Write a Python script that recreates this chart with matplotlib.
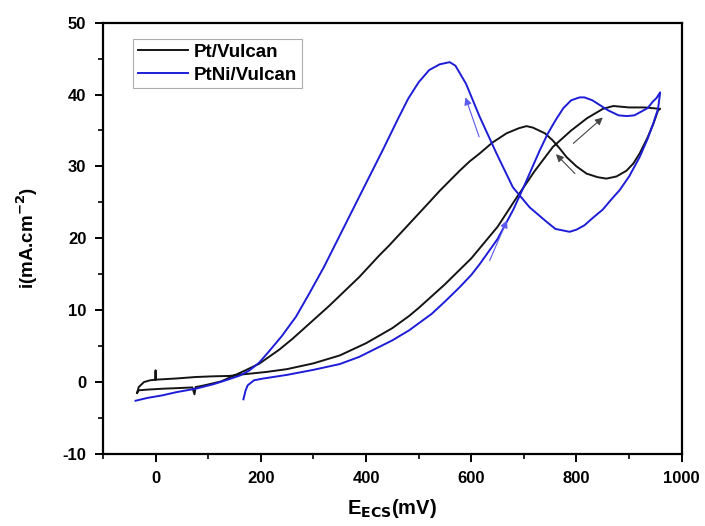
import matplotlib.pyplot as plt
import matplotlib as mpl
from matplotlib.ticker import MultipleLocator

mpl.rcParams.update(
    {
        "font.family": ["Liberation Sans", "DejaVu Sans"],
        "font.weight": "bold",
        "font.size": 12,
        "axes.labelweight": "bold",
        "axes.linewidth": 1.6,
        "axes.unicode_minus": False,
        "xtick.direction": "out",
        "ytick.direction": "out",
        "xtick.major.size": 6,
        "ytick.major.size": 6,
        "xtick.minor.size": 3.5,
        "ytick.minor.size": 3.5,
        "xtick.major.width": 1.4,
        "ytick.major.width": 1.4,
        "xtick.minor.width": 1.2,
        "ytick.minor.width": 1.2,
    }
)

# Pt/Vulcan: one closed CV loop (forward scan, then back scan), E in mV, i in mA/cm2
pt_e = [-35, -32, -22, -10, 0, 0, 0, 40, 76, 110, 140, 170, 210, 250, 300, 350,
        400, 450, 482, 500, 550, 600, 650, 683, 720, 755, 790, 820, 850, 870, 900,
        930, 959,
        955, 946, 935, 920, 908, 895, 876, 857, 840, 819, 800, 781, 768, 755,
        740, 717, 705, 690, 667, 640, 616, 597, 578, 540, 520, 482, 444,
        425, 387, 330, 292, 260, 235, 197, 170, 140, 125, 108, 90, 76, 74, 70,
        40, 13, -15, -32, -35]
pt_i = [-1.5, -0.7, 0.0, 0.25, 0.33, 1.6, 0.33, 0.5, 0.7, 0.8, 0.85, 1.1, 1.4, 1.8, 2.6, 3.7,
        5.4, 7.5, 9.2, 10.3, 13.6, 17.2, 21.6, 25.3, 29.3, 32.7, 35.0, 36.7, 38.0, 38.4, 38.2,
        38.2, 38.0,
        37.8, 35.9, 34.0, 31.8, 30.4, 29.4, 28.6, 28.3, 28.5, 29.0, 30.0, 31.3, 32.5, 33.6,
        34.6, 35.4, 35.6, 35.3, 34.6, 33.3, 31.8, 30.7, 29.4, 26.6, 25.0, 22.0, 19.0,
        17.6, 14.6, 10.6, 8.1, 6.0, 4.5, 2.55, 1.6, 0.6, 0.1, -0.2, -0.5, -0.7, -1.7, -0.75,
        -0.85, -0.93, -1.05, -1.15, -1.5]

# PtNi/Vulcan: scan starts at ~167 mV, goes up to 960 mV, back down to -40 mV
ptni_e = [167, 171, 175, 187, 203, 250, 300, 350, 387, 450, 482, 525, 550, 578,
          600, 616, 650, 680, 700, 730, 745, 760, 775, 790, 806, 815, 830, 845,
          860, 880, 895, 910, 920, 935, 945, 952, 959,
          955, 946, 935, 920, 900, 882, 865, 850, 832, 815, 800, 787, 760, 743,
          711, 679, 648, 616, 590, 570, 559, 540, 520, 500, 480, 460, 432,
          390, 355, 320, 292, 267, 240, 216, 197, 178, 160, 140,
          110, 76, 40, 13, -15, -38]
ptni_i = [-2.4, -1.2, -0.46, 0.24, 0.47, 1.0, 1.7, 2.5, 3.5, 5.8, 7.2, 9.5, 11.2, 13.2,
          14.9, 16.4, 19.9, 24.0, 27.2, 32.2, 34.5, 36.4, 38.1, 39.2, 39.6, 39.6, 39.2, 38.5,
          37.8, 37.1, 37.0, 37.1, 37.5, 38.1, 39.0, 39.5, 40.3,
          38.0, 36.0, 33.8, 31.3, 28.6, 26.7, 25.3, 24.0, 22.9, 21.8, 21.2, 20.9, 21.3, 22.3,
          24.3, 27.1, 31.8, 36.9, 41.5, 44.0, 44.5, 44.2, 43.4, 41.7, 39.4, 36.5, 32.3,
          26.2, 21.1, 16.0, 12.3, 9.1, 6.4, 4.3, 2.7, 1.6, 0.9, 0.4,
          -0.3, -0.93, -1.4, -1.85, -2.2, -2.6]

# scan-direction arrows: (tail E, tail i, head E, head i)
pt_arrows = [(794, 33.2, 850, 36.8), (797, 29.0, 761, 31.7)]
ptni_arrows = [(615, 34.1, 589, 39.6), (635, 16.9, 668, 22.5)]

fig = plt.figure(figsize=(7.05, 5.26), dpi=100)
ax = fig.add_axes([0.146, 0.137, 0.821, 0.820])

ax.plot(pt_e, pt_i, color="#141414", linewidth=1.4, label="Pt/Vulcan")
ax.plot(ptni_e, ptni_i, color="#1d1dd8", linewidth=1.4, label="PtNi/Vulcan")

for x0, y0, x1, y1 in pt_arrows:
    ax.annotate("", xy=(x1, y1), xytext=(x0, y0),
                arrowprops=dict(arrowstyle="-|>", color="#444444", lw=0.8,
                                mutation_scale=11, shrinkA=0, shrinkB=0))
for x0, y0, x1, y1 in ptni_arrows:
    ax.annotate("", xy=(x1, y1), xytext=(x0, y0),
                arrowprops=dict(arrowstyle="-|>", color="#5a5aee", lw=0.8,
                                mutation_scale=11, shrinkA=0, shrinkB=0))

ax.set_xlim(-100, 1000)
ax.set_ylim(-10, 50)
ax.xaxis.set_major_locator(MultipleLocator(200))
ax.xaxis.set_minor_locator(MultipleLocator(100))
ax.yaxis.set_major_locator(MultipleLocator(10))
ax.yaxis.set_minor_locator(MultipleLocator(5))
ax.tick_params(axis="both", which="major", labelsize=12, pad=6)

ax.set_xlabel(r"E$_{\mathbf{ECS}}$(mV)", fontsize=14.5, labelpad=8)
ax.set_ylabel(r"i(mA.cm$^{\mathbf{-2}}$)", fontsize=13.5, labelpad=16)

leg = ax.legend(loc="upper left", bbox_to_anchor=(0.052, 0.962), borderaxespad=0,
                fontsize=13.5, frameon=True, fancybox=False, handlelength=2.7,
                handletextpad=0.3, borderpad=0.25, labelspacing=0.3)
leg.get_frame().set_edgecolor("#999999")
leg.get_frame().set_linewidth(0.8)

fig.savefig("out.png", dpi=100)
